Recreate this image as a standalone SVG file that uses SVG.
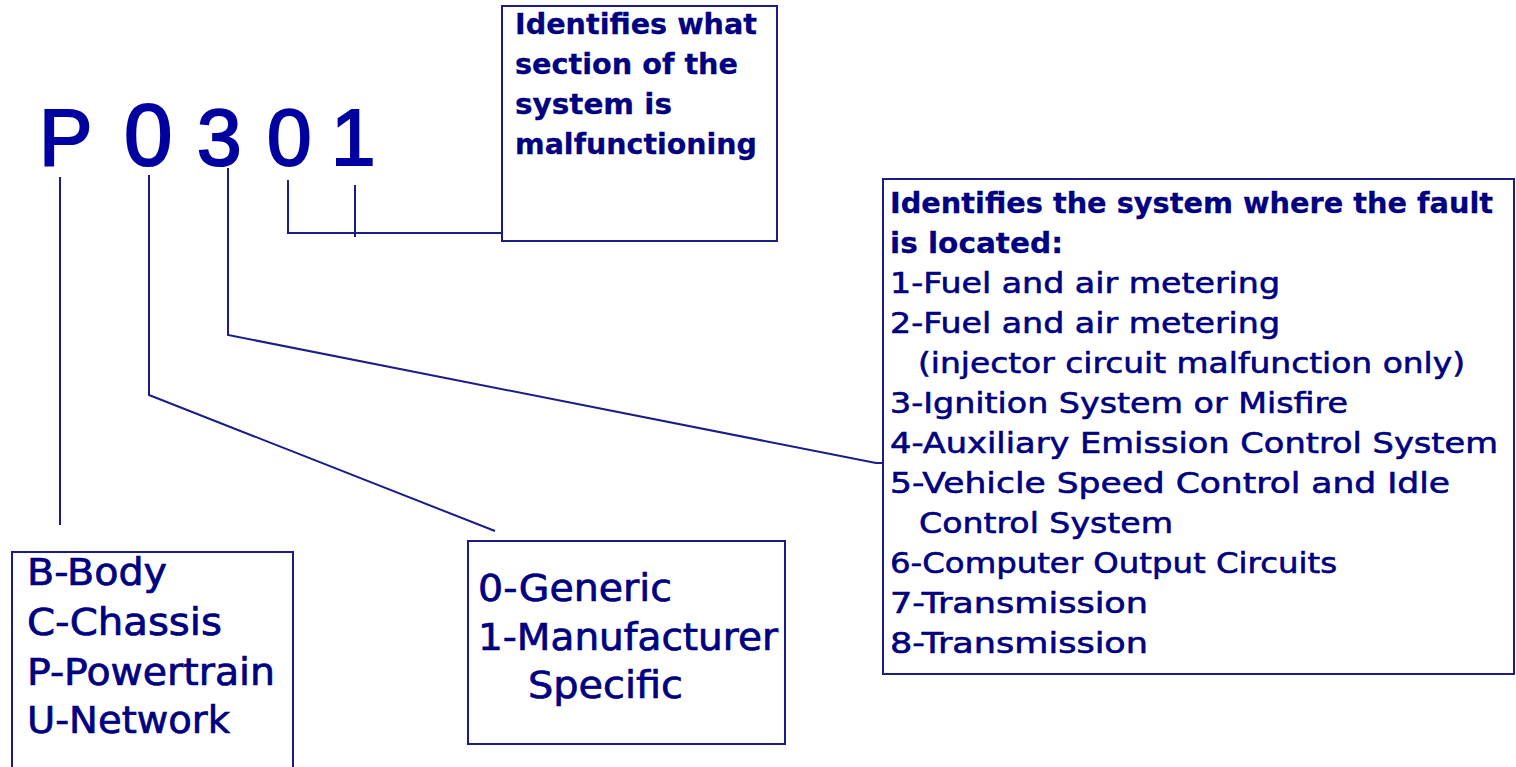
<svg xmlns="http://www.w3.org/2000/svg" width="1516" height="767" viewBox="0 0 1516 767">
<style>
.bg{fill:#ffffff}
.box{fill:#ffffff;stroke:#1c1c88;stroke-width:2}
.ln{fill:none;stroke:#1c1c88;stroke-width:2}
.big{font-family:"Liberation Sans",Arial,sans-serif;fill:#0000a0;stroke:#0000a0;stroke-width:2.2}
.t{font-family:"DejaVu Sans","Liberation Sans",sans-serif;fill:#000080;font-size:29px;stroke:#000080;stroke-width:0.6}
.b{font-weight:bold;stroke-width:0.3}
.lg{font-family:"DejaVu Sans","Liberation Sans",sans-serif;fill:#000080;font-size:37px;stroke:#000080;stroke-width:0.7}
</style>
<rect class="bg" x="0" y="0" width="1516" height="767"/>
<g id="code">
<text class="big" x="39" y="165" font-size="80">P</text>
<text class="big" x="124" y="165" font-size="87">0</text>
<text class="big" x="197" y="165" font-size="80">3</text>
<text class="big" x="267" y="165" font-size="80">0</text>
<text class="big" x="331" y="165" font-size="80">1</text>
</g>
<g id="connectors">
<polyline class="ln" points="60,177 60,525"/>
<polyline class="ln" points="149,175 149,395 495,531"/>
<polyline class="ln" points="228,168 228,335 876,463 883,463"/>
<polyline class="ln" points="288,180 288,233 502,233"/>
<polyline class="ln" points="355,185 355,237"/>
</g>
<g id="section-box">
<rect class="box" x="502" y="6" width="275" height="235"/>
<text class="t b" x="515" y="34" textLength="242" lengthAdjust="spacingAndGlyphs">Identifies what</text>
<text class="t b" x="515" y="74" textLength="223" lengthAdjust="spacingAndGlyphs">section of the</text>
<text class="t b" x="515" y="114" textLength="157" lengthAdjust="spacingAndGlyphs">system is</text>
<text class="t b" x="515" y="154" textLength="242" lengthAdjust="spacingAndGlyphs">malfunctioning</text>
</g>
<g id="system-box">
<rect class="box" x="883" y="179" width="631" height="495"/>
<text class="t b" x="890" y="213" textLength="603" lengthAdjust="spacingAndGlyphs">Identifies the system where the fault</text>
<text class="t b" x="890" y="253" textLength="173" lengthAdjust="spacingAndGlyphs">is located:</text>
<text class="t" x="890" y="293" textLength="390" lengthAdjust="spacingAndGlyphs">1-Fuel and air metering</text>
<text class="t" x="890" y="333" textLength="390" lengthAdjust="spacingAndGlyphs">2-Fuel and air metering</text>
<text class="t" x="918" y="373" textLength="547" lengthAdjust="spacingAndGlyphs">(injector circuit malfunction only)</text>
<text class="t" x="890" y="413" textLength="458" lengthAdjust="spacingAndGlyphs">3-Ignition System or Misfire</text>
<text class="t" x="890" y="453" textLength="608" lengthAdjust="spacingAndGlyphs">4-Auxiliary Emission Control System</text>
<text class="t" x="890" y="493" textLength="560" lengthAdjust="spacingAndGlyphs">5-Vehicle Speed Control and Idle</text>
<text class="t" x="919" y="533" textLength="254" lengthAdjust="spacingAndGlyphs">Control System</text>
<text class="t" x="890" y="573" textLength="447" lengthAdjust="spacingAndGlyphs">6-Computer Output Circuits</text>
<text class="t" x="890" y="613" textLength="258" lengthAdjust="spacingAndGlyphs">7-Transmission</text>
<text class="t" x="890" y="653" textLength="258" lengthAdjust="spacingAndGlyphs">8-Transmission</text>
</g>
<g id="type-box">
<rect class="box" x="12" y="552" width="281" height="230"/>
<text class="lg" x="27" y="585" textLength="140" lengthAdjust="spacingAndGlyphs">B-Body</text>
<text class="lg" x="27" y="635" textLength="195" lengthAdjust="spacingAndGlyphs">C-Chassis</text>
<text class="lg" x="27" y="685" textLength="248" lengthAdjust="spacingAndGlyphs">P-Powertrain</text>
<text class="lg" x="27" y="733" textLength="203" lengthAdjust="spacingAndGlyphs">U-Network</text>
</g>
<g id="generic-box">
<rect class="box" x="468" y="541" width="317" height="203"/>
<text class="lg" x="478" y="601" textLength="194" lengthAdjust="spacingAndGlyphs">0-Generic</text>
<text class="lg" x="478" y="650" textLength="300" lengthAdjust="spacingAndGlyphs">1-Manufacturer</text>
<text class="lg" x="528" y="698" textLength="155" lengthAdjust="spacingAndGlyphs">Specific</text>
</g>
</svg>
